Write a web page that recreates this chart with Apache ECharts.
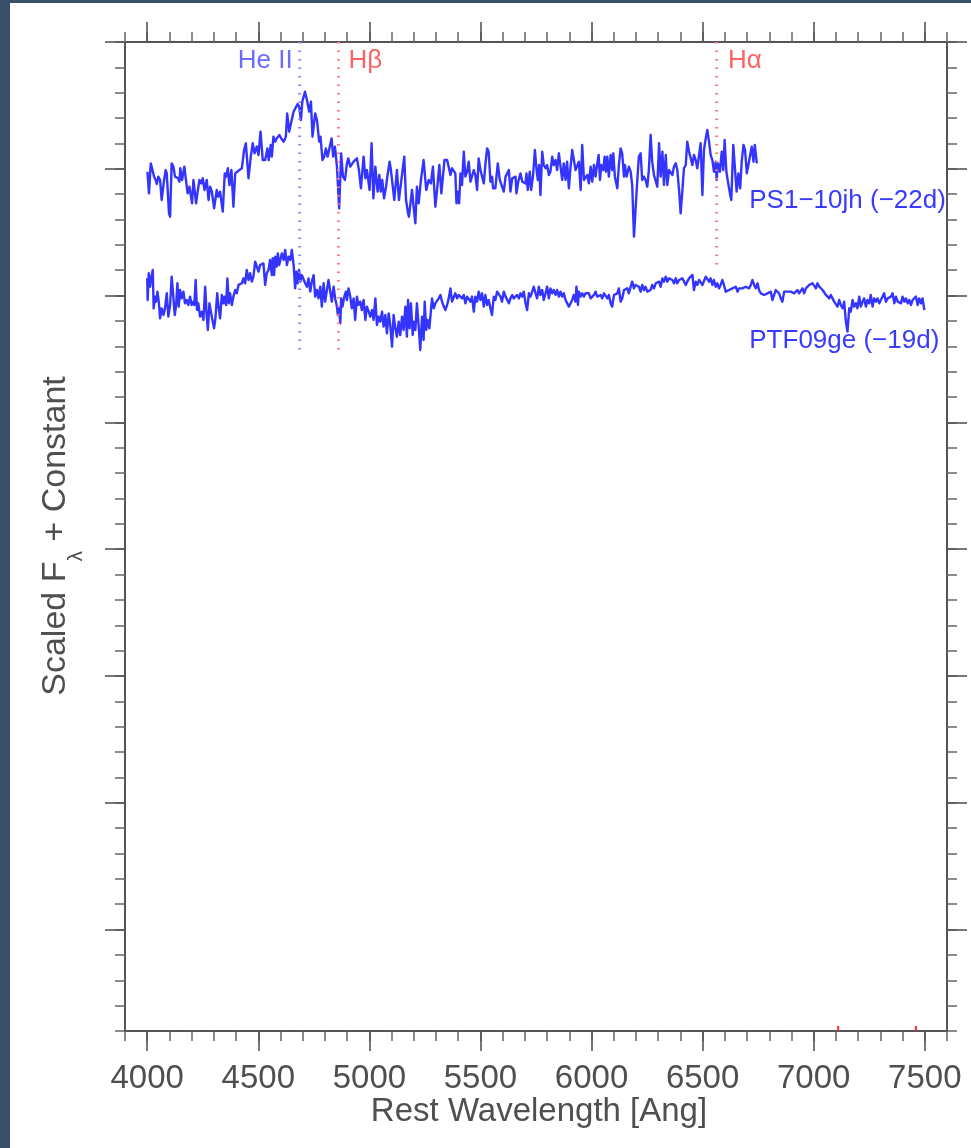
<!DOCTYPE html>
<html>
<head>
<meta charset="utf-8">
<title>Early spectra: PS1-10jh and PTF09ge</title>
<script src="https://cdn.jsdelivr.net/npm/echarts@6/dist/echarts.min.js"></script>
<style>
  html, body { margin: 0; padding: 0; background: #ffffff; }
  #chart { width: 971px; height: 1148px; }
</style>
</head>
<body>
<div id="chart"></div>
<script>
// ---- axis ranges and tick values ----
const xRange = [3900, 7600];
const yRange = [-0.8, 7];
const xMajorTicks = [4000, 4500, 5000, 5500, 6000, 6500, 7000, 7500];
const yMajorTicks = [0, 1, 2, 3, 4, 5, 6, 7];

// ---- spectra: [rest wavelength (Å), scaled flux + constant] ----
const ps1_10jh = [
  [4001,5.977],[4008,5.806],[4016,6.043],[4023,6.038],[4031,5.938],[4038,5.912],[4043,5.880],[4050,5.938],[4058,5.912],[4065,5.754],
  [4076,5.912],[4083,5.990],[4088,5.964],[4098,5.649],[4103,5.622],[4110,6.043],[4118,6.017],[4125,5.938],[4133,5.938],[4139,5.925],
  [4145,5.898],[4149,6.004],[4157,5.912],[4167,6.017],[4178,5.859],[4182,5.806],[4190,5.859],[4202,5.728],[4208,5.912],[4220,5.728],
  [4227,5.820],[4235,5.912],[4243,5.885],[4250,5.925],[4258,5.833],[4268,5.912],[4276,5.754],[4283,5.859],[4291,5.820],[4301,5.688],
  [4313,5.833],[4319,5.780],[4328,5.820],[4340,5.662],[4349,5.964],[4355,5.938],[4363,6.004],[4370,5.872],[4379,5.990],[4388,5.701],
  [4396,5.964],[4403,5.951],[4415,5.990],[4426,6.004],[4436,6.148],[4444,6.201],[4456,5.925],[4466,6.096],[4475,6.201],[4483,6.122],
  [4493,6.175],[4501,6.109],[4510,6.293],[4520,6.069],[4531,6.069],[4541,6.161],[4547,6.069],[4556,6.188],[4561,6.096],[4568,6.253],
  [4576,6.214],[4583,6.240],[4595,6.267],[4603,6.240],[4614,6.214],[4624,6.253],[4630,6.437],[4639,6.293],[4647,6.359],[4659,6.451],
  [4666,6.464],[4677,6.511],[4684,6.490],[4692,6.385],[4698,6.529],[4710,6.608],[4719,6.543],[4729,6.451],[4737,6.529],[4744,6.253],
  [4756,6.437],[4764,6.385],[4774,6.214],[4780,6.253],[4789,6.069],[4797,6.096],[4804,6.161],[4812,6.096],[4819,6.096],[4830,6.240],
  [4837,6.096],[4845,6.175],[4854,6.017],[4864,5.688],[4873,6.122],[4881,5.938],[4890,5.912],[4899,6.043],[4905,6.082],[4914,6.017],
  [4929,6.056],[4944,6.082],[4953,5.990],[4962,5.846],[4974,6.096],[4982,5.925],[4989,5.990],[5001,5.833],[5010,6.201],[5018,5.767],
  [5027,6.017],[5037,5.820],[5045,5.951],[5051,5.820],[5058,5.912],[5066,5.767],[5075,5.859],[5082,5.951],[5091,6.056],[5097,5.990],
  [5112,5.754],[5124,5.990],[5133,5.754],[5157,6.096],[5165,5.754],[5174,5.649],[5178,5.622],[5192,5.833],[5199,5.701],[5207,5.570],
  [5214,5.859],[5222,5.728],[5232,5.912],[5244,6.069],[5256,5.833],[5267,5.912],[5277,5.885],[5286,6.017],[5297,5.701],[5306,5.859],
  [5315,6.030],[5324,5.806],[5338,6.069],[5350,6.069],[5365,5.951],
  [5372,6.004],[5380,6.017],[5387,5.964],[5392,5.728],[5398,5.820],[5404,5.728],[5410,5.964],[5417,5.872],[5425,6.135],[5432,5.938],
  [5440,5.977],[5447,6.056],[5455,5.898],[5462,5.898],[5470,5.990],[5477,5.951],[5485,5.833],[5492,6.082],[5500,5.990],[5507,6.004],
  [5515,5.885],[5522,6.030],[5530,6.161],[5537,6.135],[5545,5.898],[5552,5.938],[5557,5.846],[5567,5.846],[5578,6.043],[5587,5.912],
  [5595,5.898],[5605,5.820],[5613,5.938],[5620,5.938],[5628,5.990],[5635,5.820],[5643,5.925],[5650,5.912],[5658,5.938],[5662,5.806],
  [5670,5.898],[5680,5.964],[5688,5.898],[5695,5.898],[5703,5.885],[5707,5.964],[5713,5.833],[5722,5.977],[5728,5.833],[5737,5.951],
  [5745,6.148],[5752,6.004],[5758,5.912],[5764,6.030],[5770,5.793],[5778,6.135],[5785,6.030],[5793,6.004],[5800,6.030],[5808,5.951],
  [5815,5.977],[5823,6.096],[5830,6.030],[5838,6.069],[5845,5.990],[5853,6.122],[5860,6.109],[5868,5.912],[5875,6.043],[5883,5.912],
  [5890,6.056],[5898,5.846],[5905,6.004],[5913,6.148],[5920,6.135],[5928,5.990],[5935,5.977],[5943,6.056],[5951,5.833],[5958,6.188],
  [5966,5.912],[5973,5.912],[5981,5.951],[5988,5.885],[5996,6.017],[6003,5.898],[6011,6.030],[6018,5.938],[6026,6.043],[6032,6.109],
  [6038,5.912],[6044,6.030],[6053,5.990],[6059,6.096],[6065,5.977],[6071,6.096],[6078,5.938],[6086,6.109],[6093,5.990],[6098,6.122],
  [6105,5.938],[6116,5.846],[6123,6.030],[6131,6.161],[6138,6.122],[6146,5.938],[6150,6.030],[6158,5.938],[6168,6.017],[6176,5.977],
  [6183,5.872],[6191,5.465],[6198,5.675],[6206,5.912],[6213,6.096],[6221,6.122],[6228,5.912],[6236,5.938],[6243,5.912],[6251,5.859],
  [6258,5.990],[6266,6.267],[6273,6.056],[6281,5.951],[6289,5.964],[6296,5.859],[6304,6.201],[6311,5.938],[6319,6.135],[6326,5.872],
  [6334,6.109],[6341,5.872],[6349,5.990],[6356,5.990],[6364,5.951],[6371,6.017],[6379,6.043],[6386,5.990],[6394,5.833],[6401,5.649],
  [6409,5.833],[6416,6.004],[6424,6.030],[6431,6.214],[6439,6.135],[6446,6.148],[6454,6.030],[6461,6.109],[6469,6.069],[6476,6.004],
  [6484,6.109],[6491,6.201],[6499,5.793],[6506,6.148],[6514,6.240],[6521,6.306],[6529,6.214],[6536,6.109],[6544,6.069],[6551,5.977],
  [6559,6.056],[6563,5.912],[6569,6.043],[6578,5.977],[6586,6.135],[6593,5.990],[6599,6.227],[6607,5.977],[6614,5.898],[6623,5.806],
  [6629,5.754],[6638,6.188],[6646,6.175],[6653,5.820],[6661,5.964],[6669,5.846],[6676,6.056],[6684,6.188],[6691,6.148],[6699,5.964],
  [6706,6.030],[6714,6.017],[6721,6.175],[6729,6.056],[6735,6.188],[6744,6.043]
];

const ptf09ge = [
  [4000,5.136],[4002,4.965],[4007,5.176],[4013,5.070],[4019,5.149],[4025,5.202],[4029,4.899],[4035,4.992],[4040,4.952],[4046,5.031],
  [4052,4.952],[4058,4.821],[4065,4.899],[4073,4.847],[4080,4.899],[4088,5.018],[4095,4.834],[4103,4.926],[4110,5.149],[4118,4.978],
  [4124,4.847],[4130,4.926],[4136,5.097],[4142,4.913],[4148,5.044],[4155,4.978],[4163,5.031],[4170,4.939],[4178,4.965],[4185,4.926],
  [4193,4.992],[4200,4.926],[4208,4.952],[4212,4.926],[4218,5.123],[4224,4.886],[4230,4.939],[4238,4.834],[4246,4.873],[4253,4.808],
  [4261,5.070],[4268,4.834],[4273,4.729],[4280,4.939],[4288,4.860],[4295,4.794],[4301,4.742],[4307,4.821],[4315,5.018],[4321,4.913],
  [4328,4.821],[4336,5.005],[4343,4.939],[4348,4.992],[4355,4.926],[4361,5.136],[4367,4.939],[4373,5.018],[4381,4.926],[4388,4.992],
  [4396,5.044],[4403,5.018],[4411,5.084],[4418,5.070],[4426,5.097],[4433,5.136],[4441,5.097],[4448,5.202],[4456,5.123],[4463,5.176],
  [4471,5.110],[4478,5.149],[4486,5.268],[4493,5.254],[4501,5.189],[4508,5.241],[4516,5.228],[4523,5.254],[4531,5.084],[4538,5.176],
  [4546,5.202],[4553,5.281],[4561,5.162],[4565,5.294],[4571,5.162],[4576,5.307],[4583,5.228],[4588,5.333],[4594,5.241],[4599,5.254],
  [4606,5.333],[4614,5.281],[4621,5.360],[4629,5.241],[4636,5.307],[4644,5.281],[4651,5.360],[4659,5.241],[4666,5.057],[4671,5.189],
  [4677,5.097],[4683,5.202],[4689,5.110],[4696,5.162],[4704,5.149],[4711,5.097],[4719,5.070],[4726,5.136],[4734,5.031],[4741,5.110],
  [4749,5.162],[4756,4.992],[4764,5.044],[4771,4.978],[4779,5.070],[4786,4.913],[4794,5.097],[4801,4.952],[4809,5.044],[4816,5.123],
  [4824,5.031],[4831,4.952],[4839,5.070],[4846,4.978],[4854,4.913],[4858,4.847],[4864,4.899],[4869,4.781],[4873,4.978],[4879,4.913],
  [4887,4.992],[4894,5.031],[4899,4.965],[4906,5.057],[4914,4.992],[4921,4.899],[4929,4.978],[4936,4.808],[4944,4.992],[4951,4.926],
  [4959,4.952],[4966,4.886],[4974,4.965],[4982,4.808],[4989,4.913],[4997,4.873],[5004,4.834],[5012,4.886],[5019,4.808],[5027,4.978],
  [5034,4.768],[5042,4.834],[5049,4.794],[5057,4.873],[5064,4.755],[5072,4.847],[5079,4.702],[5087,4.860],[5094,4.768],[5102,4.597],
  [5109,4.847],[5117,4.742],[5124,4.676],[5132,4.794],[5139,4.689],[5147,4.834],[5154,4.729],[5162,4.913],[5169,4.676],[5174,4.965],
  [5181,4.742],[5187,4.939],[5195,4.689],[5199,4.794],[5207,4.729],[5214,4.939],[5222,4.755],[5229,4.571],[5237,4.834],[5244,4.650],
  [5249,4.952],[5256,4.729],[5262,4.808],[5270,4.742],[5276,4.860],[5282,4.978],[5290,4.899],[5297,4.939],[5305,4.952],[5312,4.978],
  [5320,5.005],[5327,4.952],[5335,4.913],[5342,4.886],[5350,4.926],[5357,4.978],[5365,5.057],[5372,4.952],[5380,4.965],[5387,5.018],
  [5395,4.978],[5402,5.005],[5410,4.992],[5417,4.978],[5425,5.005],[5432,4.939],[5440,4.992],[5447,4.978],[5455,4.952],[5462,4.992],
  [5470,4.873],[5477,4.992],[5485,4.952],[5492,5.031],[5500,4.965],[5507,5.018],[5515,4.913],[5522,5.005],[5530,4.926],[5537,4.965],
  [5545,4.900],[5552,4.847],[5560,4.992],[5567,4.965],[5575,5.031],[5582,5.044],[5590,4.992],[5597,4.952],[5605,5.031],[5613,4.992],
  [5620,5.005],[5628,4.939],[5635,4.978],[5643,5.005],[5650,4.978],[5658,4.965],[5665,5.005],[5673,4.978],[5680,5.018],[5688,4.992],
  [5695,5.031],[5703,4.939],[5710,4.886],[5718,5.018],[5725,4.992],[5733,5.031],[5740,5.070],[5748,5.018],[5755,4.978],[5763,5.070],
  [5770,5.005],[5778,5.044],[5785,4.965],[5793,5.018],[5800,5.070],[5808,4.978],[5815,5.057],[5823,5.018],[5830,5.044],[5838,5.005],
  [5845,5.044],[5853,4.992],[5860,5.031],[5868,4.992],[5875,5.018],[5883,4.965],[5890,4.978],[5898,4.913],[5905,4.900],[5913,4.965],
  [5920,5.005],[5928,4.952],[5932,5.070],[5939,4.926],[5943,5.031],[5951,4.992],[5958,5.018],[5966,4.992],[5973,5.018],[5981,5.005],
  [5988,5.018],[5996,4.978],[6003,4.992],[6011,5.005],[6018,5.031],[6026,4.992],[6033,4.978],[6041,5.005],[6048,4.978],[6056,5.018],
  [6063,5.031],[6071,4.978],[6078,5.005],[6086,4.939],[6093,4.913],[6101,5.005],[6108,4.992],[6116,5.018],[6123,5.057],[6131,4.952],
  [6138,4.978],[6146,5.044],[6153,5.031],[6161,5.057],[6168,5.018],[6176,5.070],[6183,5.110],[6191,5.057],[6198,5.084],[6206,5.097],
  [6213,5.070],[6221,5.031],[6228,5.084],[6236,5.044],[6243,5.070],[6251,5.031],[6258,5.018],[6266,5.044],[6273,5.084],[6281,5.057],
  [6289,5.097],[6296,5.084],[6304,5.110],[6311,5.070],[6319,5.136],[6326,5.110],[6334,5.149],[6341,5.110],[6349,5.136],[6356,5.149],
  [6364,5.123],[6371,5.097],[6379,5.136],[6386,5.097],[6394,5.123],[6401,5.110],[6409,5.136],[6416,5.123],[6424,5.084],[6431,5.110],
  [6439,5.136],[6446,5.149],[6454,5.163],[6461,5.044],[6469,5.110],[6476,5.084],[6484,5.123],[6491,5.136],[6499,5.084],[6506,5.097],
  [6514,5.149],[6521,5.163],[6529,5.110],[6536,5.136],[6544,5.084],[6551,5.123],[6559,5.070],[6566,5.097],[6574,5.057],[6581,5.084],
  [6589,5.123],[6596,5.084],[6604,5.031],[6611,5.018],[6619,5.044],[6627,5.031],[6634,5.057],[6642,5.044],[6649,5.070],[6657,5.031],
  [6664,5.057],[6672,5.070],[6679,5.057],[6687,5.044],[6694,5.070],[6702,5.070],[6709,5.057],[6717,5.084],[6724,5.123],[6732,5.084],
  [6739,5.057],[6747,5.097],[6754,5.044],[6762,5.018],[6769,5.031],[6777,5.005],[6784,4.992],[6792,5.018],[6799,5.005],[6807,5.031],
  [6814,4.965],[6822,5.005],[6829,5.044],[6837,5.031],[6844,5.018],[6852,4.978],[6859,4.952],[6867,5.031],[6874,5.044],[6882,5.031],
  [6889,5.044],[6897,5.031],[6904,5.044],[6912,5.018],[6919,5.031],[6927,5.044],[6934,5.018],[6942,5.031],[6950,5.057],[6957,5.018],
  [6965,5.057],[6972,5.070],[6980,5.084],[6987,5.070],[6995,5.097],[7002,5.084],[7010,5.057],[7017,5.097],[7025,5.070],[7032,5.084],
  [7040,5.044],[7047,5.031],[7055,5.005],[7062,4.992],[7070,4.978],[7077,5.005],[7085,4.978],[7092,4.952],[7100,4.939],[7107,4.913],
  [7115,4.965],[7122,4.926],[7130,4.900],[7137,4.952],[7145,4.794],[7152,4.716],[7160,4.900],[7167,4.873],[7175,4.965],[7182,4.913],
  [7190,4.939],[7197,4.900],[7205,4.992],[7212,4.913],[7220,4.952],[7227,4.978],[7235,4.913],[7242,4.965],[7250,4.939],[7257,5.005],
  [7265,4.913],[7272,4.978],[7280,4.952],[7287,4.978],[7295,4.939],[7302,4.965],[7310,4.992],[7317,5.018],[7325,4.952],[7333,4.978],
  [7340,4.965],[7348,4.992],[7355,5.018],[7363,4.939],[7370,4.992],[7378,4.952],[7385,4.965],[7393,4.939],[7400,4.992],[7408,4.952],
  [7415,4.978],[7423,4.939],[7430,4.965],[7438,4.926],[7445,4.965],[7453,4.952],[7460,4.992],[7468,4.926],[7475,4.978],[7483,4.939],
  [7490,4.978],[7498,4.886]
];

// ---- spectral line markers ----
const lineNames = ['He II', 'Hβ', 'Hα'];
const lineWaves = [4686, 4861, 6563];
const lineBottoms = [4.57, 4.57, 5.19];
const lineColors = ['#8585ff', '#ff7676', '#ff7676'];
const lineTextColors = ['#6c6cff', '#ff6262', '#ff6262'];
const lineLabelWaves = [4655, 4906, 6614];   // He II sits left of its marker, the Balmer labels right
const lineLabelAlign = ['right', 'left', 'left'];
const lineLabelY = 6.85;

// ---- telluric band marks on the wavelength axis ----
const telluricWaves = [7110, 7460];

// ---- spectrum names ----
const spectrumNames = ['PS1\u221210jh (\u221222d)', 'PTF09ge (\u221219d)'];
const spectrumLabelWave = 6710;
const spectrumLabelY = [5.746, 4.642];

const FONT = '"Liberation Sans", Arial, Helvetica, sans-serif';
const AXIS_COLOR = '#555555';
const TEXT_COLOR = '#4f4f4f';
const SPEC_COLOR = '#3434ff';

const chart = echarts.init(document.getElementById('chart'), null, { renderer: 'canvas' });

function xAxisDef(position, major) {
  return {
    type: 'value', gridIndex: 0, position: position,
    min: xRange[0], max: xRange[1],
    interval: major ? undefined : 100,
    axisLine: { show: !major, onZero: false, lineStyle: { color: AXIS_COLOR, width: 2 } },
    axisTick: major
      ? { show: true, customValues: xMajorTicks, length: 20, lineStyle: { color: AXIS_COLOR, width: 1.6 } }
      : { show: true, length: 10, lineStyle: { color: '#666666', width: 1.5 } },
    axisLabel: (major && position === 'bottom')
      ? {
          show: true, customValues: xMajorTicks, fontSize: 33, fontFamily: FONT, color: TEXT_COLOR,
          margin: 31, lineHeight: 34,
          formatter: function (v) { return String(Math.round(v)); }
        }
      : { show: false },
    splitLine: { show: false }
  };
}

function yAxisDef(position, major) {
  return {
    type: 'value', gridIndex: 0, position: position,
    min: yRange[0], max: yRange[1],
    interval: major ? undefined : 0.2,
    axisLine: { show: !major, onZero: false, lineStyle: { color: AXIS_COLOR, width: 2 } },
    axisTick: major
      ? { show: true, customValues: yMajorTicks, length: 20, lineStyle: { color: AXIS_COLOR, width: 1.6 } }
      : { show: true, length: 10, lineStyle: { color: '#666666', width: 1.5 } },
    axisLabel: { show: false },
    splitLine: { show: false }
  };
}

const series = [
  {
    name: spectrumNames[0], type: 'line', xAxisIndex: 0, yAxisIndex: 0,
    data: ps1_10jh, showSymbol: false, symbol: 'none', silent: true, z: 3,
    lineStyle: { color: SPEC_COLOR, width: 2.4, join: 'round' }
  },
  {
    name: spectrumNames[1], type: 'line', xAxisIndex: 0, yAxisIndex: 0,
    data: ptf09ge, showSymbol: false, symbol: 'none', silent: true, z: 3,
    lineStyle: { color: SPEC_COLOR, width: 2.4, join: 'round' }
  }
];

lineWaves.forEach(function (w, i) {
  series.push({
    name: lineNames[i], type: 'line', xAxisIndex: 0, yAxisIndex: 0,
    data: [[w, yRange[1]], [w, lineBottoms[i]]],
    showSymbol: false, symbol: 'none', silent: true, z: 4,
    lineStyle: { color: lineColors[i], width: 3, type: [1.5, 7], cap: 'butt' }
  });
});

series.push({
  name: 'telluric', type: 'custom', xAxisIndex: 0, yAxisIndex: 0, silent: true, z: 5,
  data: telluricWaves.map(function (w) { return [w]; }),
  renderItem: function (params, api) {
    const w = api.value(0);
    const p0 = api.coord([w, yRange[0]]);
    const p1 = api.coord([w, yRange[0] + 0.04]);
    return {
      type: 'line',
      shape: { x1: p0[0], y1: p0[1], x2: p1[0], y2: p1[1] },
      style: { stroke: '#ff2a2a', lineWidth: 2 }
    };
  }
});

const baseGraphics = [
  { type: 'rect', shape: { x: 0, y: 0, width: 10, height: 1148 }, style: { fill: '#38506a' }, silent: true, z: 100 },
  { type: 'rect', shape: { x: 0, y: 0, width: 971, height: 3 }, style: { fill: '#38506a' }, silent: true, z: 100 },
  {
    type: 'text', x: 539, y: 1112, silent: true,
    style: { text: 'Rest Wavelength [Ang]', fontSize: 33, fontFamily: FONT, fill: TEXT_COLOR, align: 'center', verticalAlign: 'middle' }
  },
  {
    type: 'text', x: 56, y: 536, rotation: Math.PI / 2, silent: true,
    style: {
      text: '{m|Scaled F}{s|\u03bb}{m| + Constant}',
      align: 'center', verticalAlign: 'middle', fill: TEXT_COLOR,
      rich: {
        m: { fontSize: 34, fontFamily: FONT, fill: TEXT_COLOR, lineHeight: 62, verticalAlign: 'middle' },
        s: { fontSize: 21, fontFamily: FONT, fill: TEXT_COLOR, lineHeight: 20, verticalAlign: 'bottom' }
      }
    }
  }
];

chart.setOption({
  animation: false,
  backgroundColor: '#ffffff',
  grid: { left: 125, top: 42, width: 822, height: 989, containLabel: false },
  xAxis: [xAxisDef('bottom', false), xAxisDef('bottom', true), xAxisDef('top', false), xAxisDef('top', true)],
  yAxis: [yAxisDef('left', false), yAxisDef('left', true), yAxisDef('right', false), yAxisDef('right', true)],
  series: series,
  graphic: baseGraphics
});

// labels tied to data coordinates
function toPx(x, y) {
  return chart.convertToPixel({ xAxisIndex: 0, yAxisIndex: 0 }, [x, y]);
}

const labelGraphics = [];
lineNames.forEach(function (name, i) {
  const p = toPx(lineLabelWaves[i], lineLabelY);
  labelGraphics.push({
    type: 'text', x: p[0], y: p[1], silent: true, z: 50,
    style: { text: name, fontSize: 26, fontFamily: FONT, fill: lineTextColors[i], align: lineLabelAlign[i], verticalAlign: 'middle' }
  });
});
spectrumNames.forEach(function (name, i) {
  const p = toPx(spectrumLabelWave, spectrumLabelY[i]);
  labelGraphics.push({
    type: 'text', x: p[0], y: p[1], silent: true, z: 50,
    style: { text: name, fontSize: 26, fontFamily: FONT, fill: '#3a3aff', align: 'left', verticalAlign: 'middle' }
  });
});

chart.setOption({ graphic: baseGraphics.concat(labelGraphics) }, { replaceMerge: ['graphic'] });
</script>
</body>
</html>
